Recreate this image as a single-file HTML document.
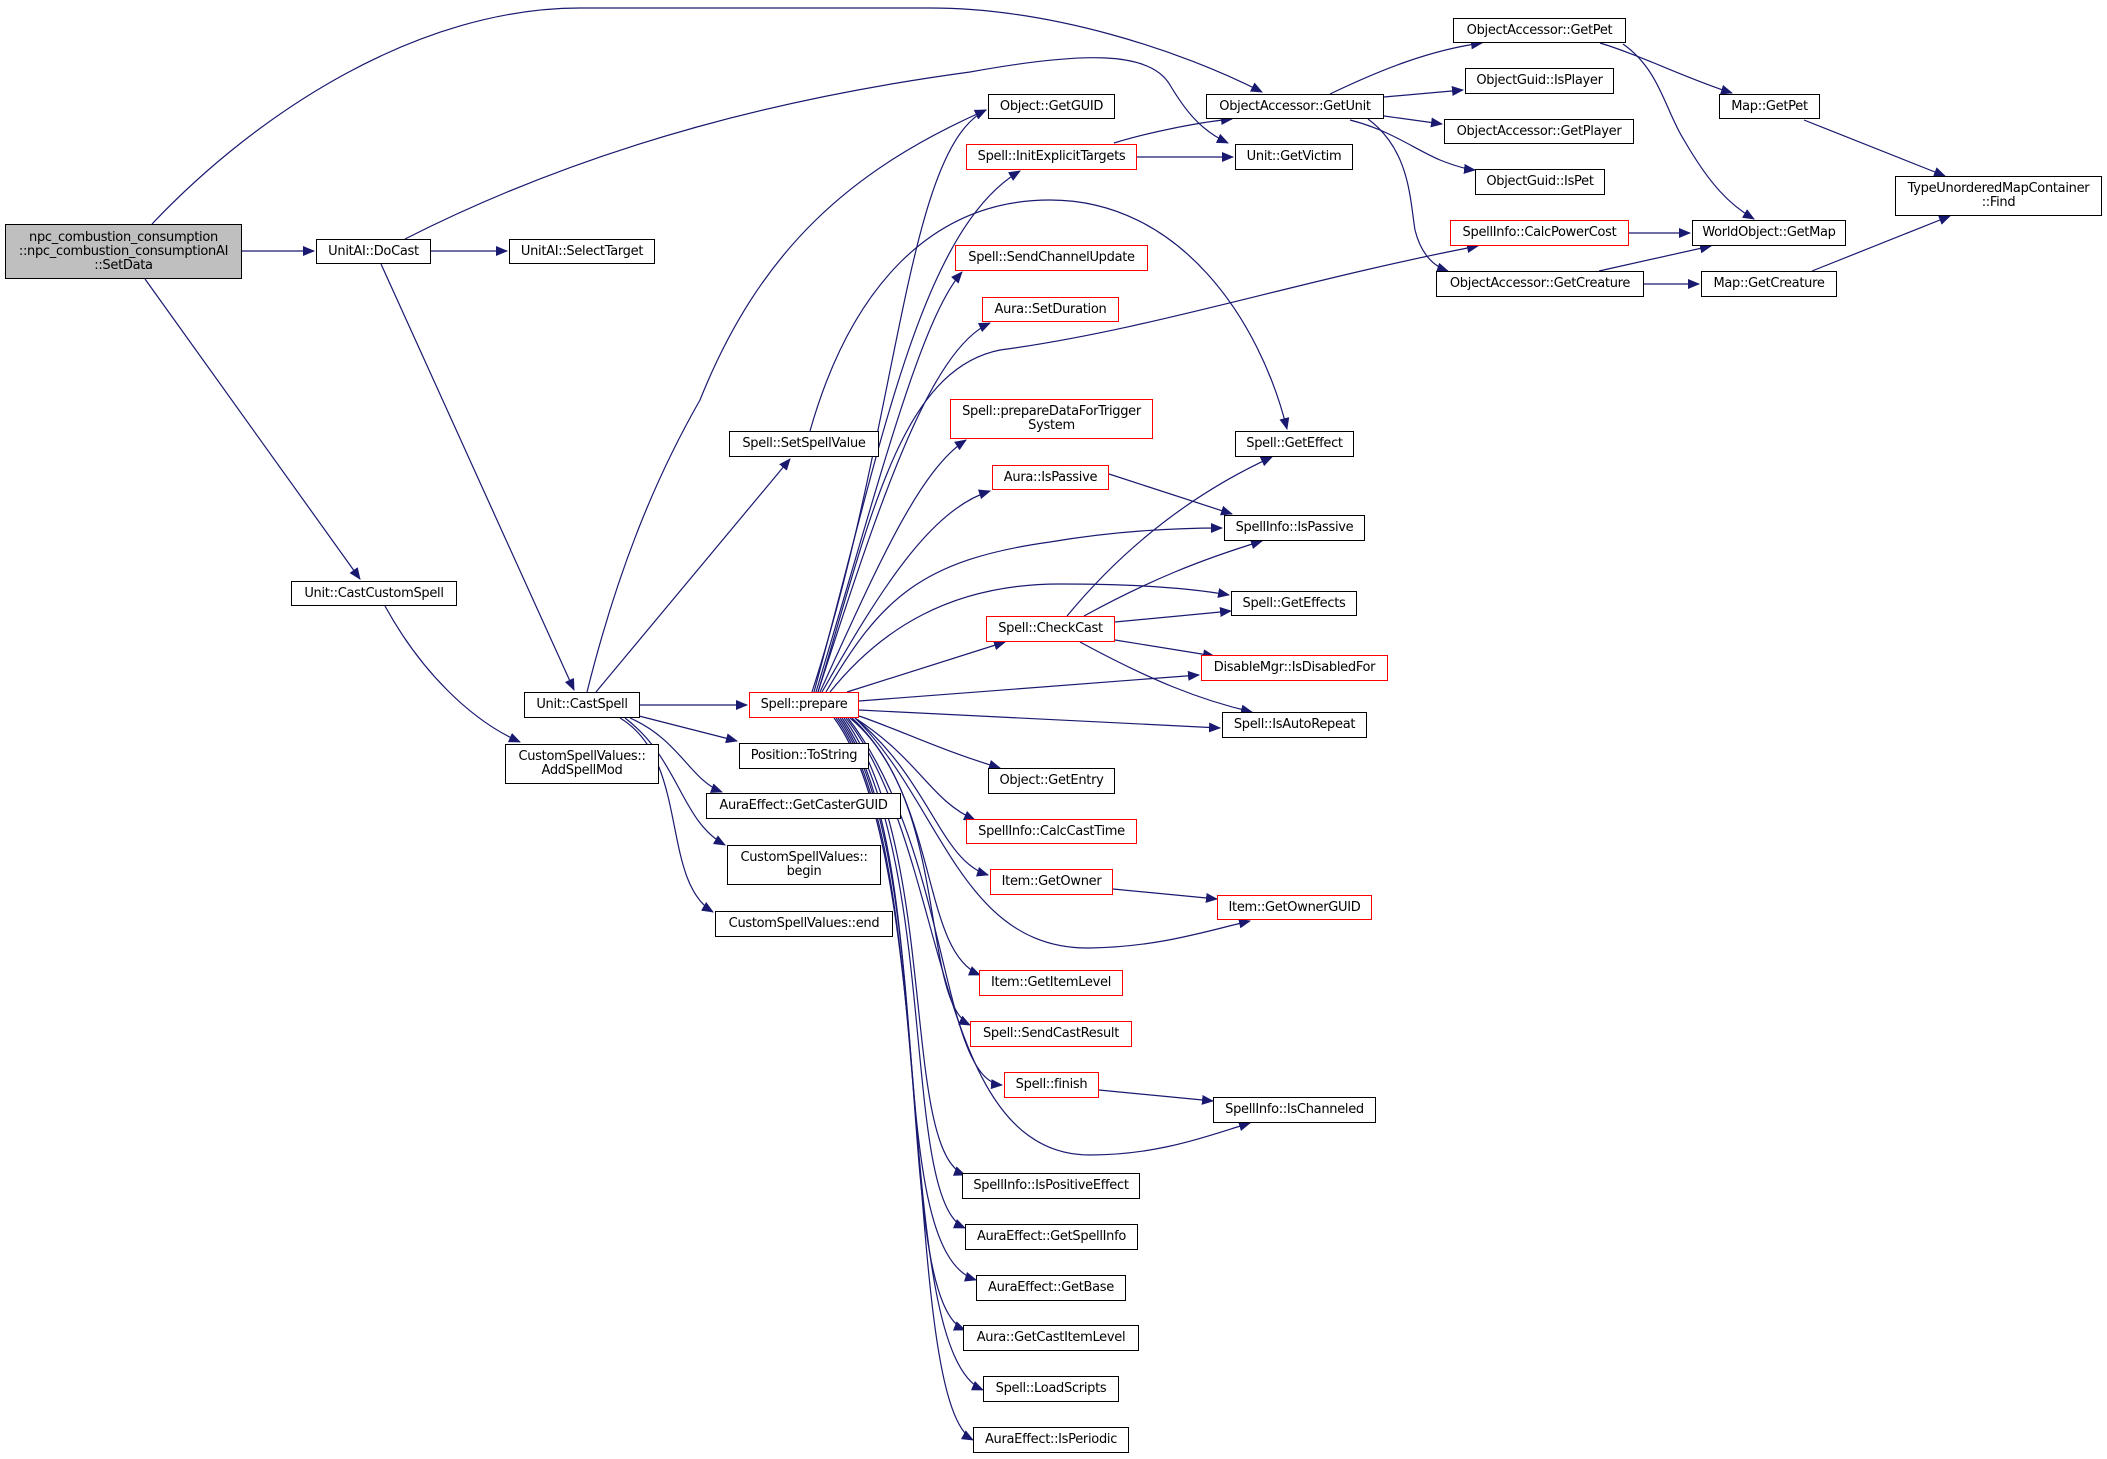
<!DOCTYPE html>
<html><head><meta charset="utf-8"><style>
body{margin:0;width:2107px;height:1459px;background:#fff;position:relative;overflow:hidden;font-family:"DejaVu Sans","Liberation Sans",sans-serif;}
.n{position:absolute;box-sizing:border-box;border:1.5px solid #000;background:#fff;font-size:13px;line-height:14px;display:flex;align-items:center;justify-content:center;text-align:center;color:#000;white-space:nowrap;letter-spacing:-0.3px}
.r{border-color:#f00}
svg{position:absolute;left:0;top:0}
</style></head><body>
<svg width="2107" height="1459" viewBox="0 0 2107 1459">
<defs><marker id="a" markerUnits="userSpaceOnUse" markerWidth="12" markerHeight="10" refX="11" refY="5" orient="auto"><path d="M0,0 L12,5 L0,10 z" fill="#191970"/></marker></defs>
<g fill="none" stroke="#191970" stroke-width="1.2" marker-end="url(#a)">
<path d="M152,224 C260,110 420,8 580,8 L930,8 C1050,8 1180,50 1262,92"/>
<path d="M242,251 L314,251"/>
<path d="M145,279 L360,579"/>
<path d="M431,251 L507,251"/>
<path d="M405,239 C600,140 800,95 970,72 C1080,52 1150,50 1170,85 C1185,110 1200,130 1228,143"/>
<path d="M381,264 L574,690"/>
<path d="M385,606 C420,670 470,720 520,742"/>
<path d="M587,692 C620,560 660,470 700,400 C760,250 850,170 986,110"/>
<path d="M596,692 L790,459"/>
<path d="M640,705 L747,705"/>
<path d="M639,716 L737,741"/>
<path d="M630,718 C680,740 690,780 722,792"/>
<path d="M625,718 C680,760 680,820 725,845"/>
<path d="M620,718 C690,760 660,880 713,912"/>
<path d="M810,431 C850,290 930,200 1050,200 C1180,200 1260,320 1287,429"/>
<path d="M812,692 C900,420 905,150 986,110"/>
<path d="M814,692 C880,450 920,230 1020,171"/>
<path d="M816,692 C880,480 920,320 962,272"/>
<path d="M818,692 C880,500 930,350 990,323"/>
<path d="M820,692 C880,560 920,470 966,440"/>
<path d="M822,692 C880,590 930,510 990,491"/>
<path d="M818,692 C870,520 900,370 1000,350 C1150,330 1300,280 1478,246"/>
<path d="M826,692 C880,600 920,560 1050,542 C1120,530 1180,528 1222,528"/>
<path d="M830,692 C880,630 950,584 1060,584 C1130,584 1190,588 1229,595"/>
<path d="M847,692 L1005,642"/>
<path d="M859,701 L1199,675"/>
<path d="M859,710 L1220,728"/>
<path d="M859,716 C900,730 940,750 1000,768"/>
<path d="M855,718 C920,760 930,800 975,820"/>
<path d="M855,718 C930,780 940,860 988,875"/>
<path d="M855,718 C940,800 960,950 1090,948 C1160,947 1210,930 1250,921"/>
<path d="M852,718 C940,800 920,950 980,975"/>
<path d="M850,718 C950,800 920,1000 970,1025"/>
<path d="M848,718 C950,850 940,1080 1002,1085"/>
<path d="M846,718 C950,850 930,1155 1090,1155 C1160,1155 1210,1135 1250,1123"/>
<path d="M844,718 C940,850 900,1150 965,1175"/>
<path d="M842,718 C940,860 900,1200 965,1228"/>
<path d="M840,718 C940,860 880,1250 976,1280"/>
<path d="M838,718 C940,860 890,1300 965,1330"/>
<path d="M836,718 C940,860 890,1350 983,1390"/>
<path d="M834,718 C940,860 900,1400 973,1440"/>
<path d="M1114,143 C1150,132 1200,122 1232,119"/>
<path d="M1137,157 L1233,157"/>
<path d="M1330,94 C1380,70 1430,50 1482,43"/>
<path d="M1384,97 L1463,90"/>
<path d="M1384,116 L1442,124"/>
<path d="M1350,120 C1390,130 1414,149 1440,160 C1455,166 1465,169 1475,170"/>
<path d="M1368,119 C1410,150 1410,200 1415,230 C1420,250 1430,265 1448,271"/>
<path d="M1600,43 C1640,55 1690,80 1732,93"/>
<path d="M1623,44 C1660,70 1665,110 1684,140 C1710,185 1730,205 1754,219"/>
<path d="M1804,120 L1945,176"/>
<path d="M1629,233 L1690,233"/>
<path d="M1599,271 L1711,246"/>
<path d="M1644,284 L1699,284"/>
<path d="M1812,271 L1950,216"/>
<path d="M1109,474 L1232,514"/>
<path d="M1067,616 C1130,540 1200,490 1272,457"/>
<path d="M1084,616 C1150,580 1200,560 1262,541"/>
<path d="M1115,622 L1231,611"/>
<path d="M1115,640 L1214,656"/>
<path d="M1080,642 C1150,680 1200,700 1252,712"/>
<path d="M1113,889 L1217,899"/>
<path d="M1099,1090 L1213,1101"/>
</g></svg>
<div class="n" style="left:5px;top:224px;width:237px;height:55px;background:#bfbfbf">npc_combustion_consumption<br>::npc_combustion_consumptionAI<br>::SetData</div>
<div class="n" style="left:316px;top:239px;width:115px;height:25px">UnitAI::DoCast</div>
<div class="n" style="left:509px;top:239px;width:146px;height:25px">UnitAI::SelectTarget</div>
<div class="n" style="left:291px;top:581px;width:166px;height:25px">Unit::CastCustomSpell</div>
<div class="n" style="left:524px;top:692px;width:116px;height:26px">Unit::CastSpell</div>
<div class="n r" style="left:749px;top:692px;width:110px;height:26px">Spell::prepare</div>
<div class="n" style="left:729px;top:431px;width:150px;height:26px">Spell::SetSpellValue</div>
<div class="n" style="left:988px;top:94px;width:127px;height:25px">Object::GetGUID</div>
<div class="n r" style="left:966px;top:144px;width:171px;height:26px">Spell::InitExplicitTargets</div>
<div class="n r" style="left:955px;top:245px;width:193px;height:26px">Spell::SendChannelUpdate</div>
<div class="n r" style="left:982px;top:297px;width:137px;height:25px">Aura::SetDuration</div>
<div class="n r" style="left:950px;top:399px;width:203px;height:40px">Spell::prepareDataForTrigger<br>System</div>
<div class="n r" style="left:992px;top:465px;width:117px;height:25px">Aura::IsPassive</div>
<div class="n r" style="left:986px;top:616px;width:129px;height:26px">Spell::CheckCast</div>
<div class="n" style="left:1206px;top:94px;width:178px;height:25px">ObjectAccessor::GetUnit</div>
<div class="n" style="left:1235px;top:144px;width:118px;height:26px">Unit::GetVictim</div>
<div class="n" style="left:1453px;top:18px;width:173px;height:25px">ObjectAccessor::GetPet</div>
<div class="n" style="left:1465px;top:68px;width:149px;height:26px">ObjectGuid::IsPlayer</div>
<div class="n" style="left:1444px;top:119px;width:190px;height:25px">ObjectAccessor::GetPlayer</div>
<div class="n" style="left:1475px;top:169px;width:130px;height:26px">ObjectGuid::IsPet</div>
<div class="n r" style="left:1450px;top:220px;width:179px;height:26px">SpellInfo::CalcPowerCost</div>
<div class="n" style="left:1436px;top:271px;width:208px;height:26px">ObjectAccessor::GetCreature</div>
<div class="n" style="left:1719px;top:94px;width:101px;height:25px">Map::GetPet</div>
<div class="n" style="left:1692px;top:220px;width:154px;height:26px">WorldObject::GetMap</div>
<div class="n" style="left:1701px;top:271px;width:136px;height:26px">Map::GetCreature</div>
<div class="n" style="left:1895px;top:176px;width:207px;height:40px">TypeUnorderedMapContainer<br>::Find</div>
<div class="n" style="left:1235px;top:431px;width:119px;height:26px">Spell::GetEffect</div>
<div class="n" style="left:1224px;top:515px;width:141px;height:26px">SpellInfo::IsPassive</div>
<div class="n" style="left:1231px;top:591px;width:126px;height:25px">Spell::GetEffects</div>
<div class="n r" style="left:1201px;top:655px;width:187px;height:26px">DisableMgr::IsDisabledFor</div>
<div class="n" style="left:1222px;top:712px;width:145px;height:26px">Spell::IsAutoRepeat</div>
<div class="n" style="left:505px;top:744px;width:154px;height:40px">CustomSpellValues::<br>AddSpellMod</div>
<div class="n" style="left:739px;top:743px;width:130px;height:26px">Position::ToString</div>
<div class="n" style="left:706px;top:793px;width:195px;height:26px">AuraEffect::GetCasterGUID</div>
<div class="n" style="left:727px;top:845px;width:154px;height:40px">CustomSpellValues::<br>begin</div>
<div class="n" style="left:715px;top:911px;width:178px;height:26px">CustomSpellValues::end</div>
<div class="n" style="left:988px;top:768px;width:127px;height:26px">Object::GetEntry</div>
<div class="n r" style="left:966px;top:819px;width:171px;height:25px">SpellInfo::CalcCastTime</div>
<div class="n r" style="left:990px;top:869px;width:123px;height:26px">Item::GetOwner</div>
<div class="n r" style="left:1217px;top:895px;width:155px;height:25px">Item::GetOwnerGUID</div>
<div class="n r" style="left:979px;top:970px;width:144px;height:26px">Item::GetItemLevel</div>
<div class="n r" style="left:970px;top:1021px;width:162px;height:26px">Spell::SendCastResult</div>
<div class="n r" style="left:1004px;top:1072px;width:95px;height:26px">Spell::finish</div>
<div class="n" style="left:1213px;top:1097px;width:163px;height:26px">SpellInfo::IsChanneled</div>
<div class="n" style="left:962px;top:1173px;width:178px;height:26px">SpellInfo::IsPositiveEffect</div>
<div class="n" style="left:965px;top:1224px;width:173px;height:26px">AuraEffect::GetSpellInfo</div>
<div class="n" style="left:976px;top:1275px;width:150px;height:26px">AuraEffect::GetBase</div>
<div class="n" style="left:963px;top:1325px;width:176px;height:26px">Aura::GetCastItemLevel</div>
<div class="n" style="left:983px;top:1376px;width:136px;height:26px">Spell::LoadScripts</div>
<div class="n" style="left:973px;top:1427px;width:156px;height:26px">AuraEffect::IsPeriodic</div>
</body></html>
